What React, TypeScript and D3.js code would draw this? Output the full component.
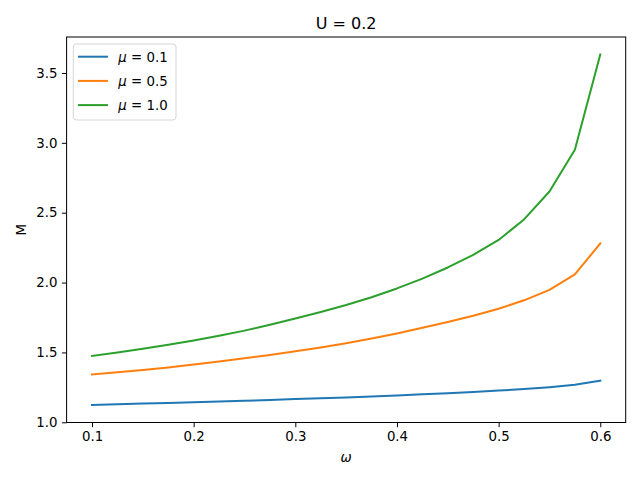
import { useEffect, useRef } from "react";
import * as d3 from "d3";

const OMEGA = [
  0.1, 0.125, 0.15, 0.175, 0.2, 0.225, 0.25, 0.275, 0.3, 0.325, 0.35, 0.375,
  0.4, 0.425, 0.45, 0.475, 0.5, 0.525, 0.55, 0.575, 0.6,
];

const M_MU01 = [
  1.124, 1.129, 1.134, 1.139, 1.144, 1.149, 1.154, 1.16, 1.166, 1.172, 1.178,
  1.185, 1.192, 1.2, 1.208, 1.217, 1.227, 1.238, 1.251, 1.268, 1.298,
];
const M_MU05 = [
  1.343, 1.358, 1.375, 1.393, 1.413, 1.435, 1.458, 1.482, 1.508, 1.536, 1.566,
  1.6, 1.636, 1.676, 1.718, 1.763, 1.813, 1.873, 1.948, 2.058, 2.28,
];
const M_MU10 = [
  1.475, 1.5, 1.526, 1.555, 1.586, 1.62, 1.656, 1.698, 1.743, 1.79, 1.84,
  1.895, 1.958, 2.028, 2.108, 2.198, 2.305, 2.452, 2.652, 2.95, 3.632,
];

const X_TICKS = [0.1, 0.2, 0.3, 0.4, 0.5, 0.6];
const Y_TICKS = [1.0, 1.5, 2.0, 2.5, 3.0, 3.5];

const SERIES = [
  { label: "0.1", values: M_MU01, color: "#1f77b4" },
  { label: "0.5", values: M_MU05, color: "#ff7f0e" },
  { label: "1.0", values: M_MU10, color: "#2ca02c" },
];

const FONT = "DejaVu Sans, sans-serif";

export default function App() {
  const ref = useRef<SVGSVGElement>(null);

  useEffect(() => {
    const svg = d3.select(ref.current);
    svg.selectAll("*").remove();

    const width = 640;
    const height = 480;
    const box = { left: 66.6, right: 625.7, top: 37, bottom: 422.5 };

    // matplotlib-style 5% margins
    const xPad = (d3.max(OMEGA)! - d3.min(OMEGA)!) * 0.05;
    const all = SERIES.flatMap((s) => s.values);
    const yMin = d3.min(all)!;
    const yMax = d3.max(all)!;
    const yPad = (yMax - yMin) * 0.05;

    const x = d3
      .scaleLinear()
      .domain([d3.min(OMEGA)! - xPad, d3.max(OMEGA)! + xPad])
      .range([box.left, box.right]);
    const y = d3
      .scaleLinear()
      .domain([yMin - yPad, yMax + yPad])
      .range([box.bottom, box.top]);

    svg.attr("width", width).attr("height", height);
    svg.append("rect").attr("width", width).attr("height", height).attr("fill", "white");

    const plot = svg.append("g");
    SERIES.forEach((s) => {
      const line = d3
        .line<number>()
        .x((_, i) => x(OMEGA[i]))
        .y((d) => y(d));
      plot
        .append("path")
        .datum(s.values)
        .attr("fill", "none")
        .attr("stroke", s.color)
        .attr("stroke-width", 2)
        .attr("stroke-linejoin", "round")
        .attr("stroke-linecap", "square")
        .attr("d", line);
    });

    svg
      .append("rect")
      .attr("x", box.left)
      .attr("y", box.top)
      .attr("width", box.right - box.left)
      .attr("height", box.bottom - box.top)
      .attr("fill", "none")
      .attr("stroke", "black")
      .attr("stroke-width", 1);

    const xAxis = svg
      .append("g")
      .attr("transform", `translate(0,${box.bottom})`)
      .call(
        d3
          .axisBottom(x)
          .tickValues(X_TICKS)
          .tickFormat(d3.format(".1f"))
          .tickSize(4.7)
          .tickPadding(4.5)
      );
    xAxis.select(".domain").remove();

    const yAxis = svg
      .append("g")
      .attr("transform", `translate(${box.left},0)`)
      .call(
        d3
          .axisLeft(y)
          .tickValues(Y_TICKS)
          .tickFormat(d3.format(".1f"))
          .tickSize(4.7)
          .tickPadding(4.5)
      );
    yAxis.select(".domain").remove();

    svg
      .selectAll(".tick text")
      .attr("font-family", FONT)
      .attr("font-size", 13.33)
      .attr("fill", "black");
    svg.selectAll(".tick line").attr("stroke", "black").attr("stroke-width", 1);

    const cx = (box.left + box.right) / 2;
    svg
      .append("text")
      .attr("x", cx)
      .attr("y", 28.5)
      .attr("text-anchor", "middle")
      .attr("font-family", FONT)
      .attr("font-size", 16)
      .text("U = 0.2");

    svg
      .append("text")
      .attr("x", cx)
      .attr("y", 462)
      .attr("text-anchor", "middle")
      .attr("font-family", FONT)
      .attr("font-style", "italic")
      .attr("font-size", 13.33)
      .text("ω");

    svg
      .append("text")
      .attr("transform", `translate(26,${(box.top + box.bottom) / 2}) rotate(-90)`)
      .attr("text-anchor", "middle")
      .attr("font-family", FONT)
      .attr("font-size", 13.33)
      .text("M");

    // legend
    const lg = svg.append("g").attr("transform", `translate(73.3,44)`);
    lg.append("rect")
      .attr("width", 102.7)
      .attr("height", 76)
      .attr("rx", 3)
      .attr("fill", "white")
      .attr("fill-opacity", 0.8)
      .attr("stroke", "#d6d6d6")
      .attr("stroke-width", 1);
    SERIES.forEach((s, i) => {
      const ly = 12.7 + i * 24.2;
      lg.append("line")
        .attr("x1", 4.7)
        .attr("x2", 34.7)
        .attr("y1", ly)
        .attr("y2", ly)
        .attr("stroke", s.color)
        .attr("stroke-width", 2);
      const t = lg
        .append("text")
        .attr("x", 45)
        .attr("y", ly + 4.8)
        .attr("font-family", FONT)
        .attr("font-size", 13.33);
      t.append("tspan").attr("font-style", "italic").text("μ");
      t.append("tspan").text(` = ${s.label}`);
    });
  }, []);

  return (
    <svg
      ref={ref}
      style={{ position: "absolute", left: 0, top: 0, display: "block" }}
    />
  );
}
